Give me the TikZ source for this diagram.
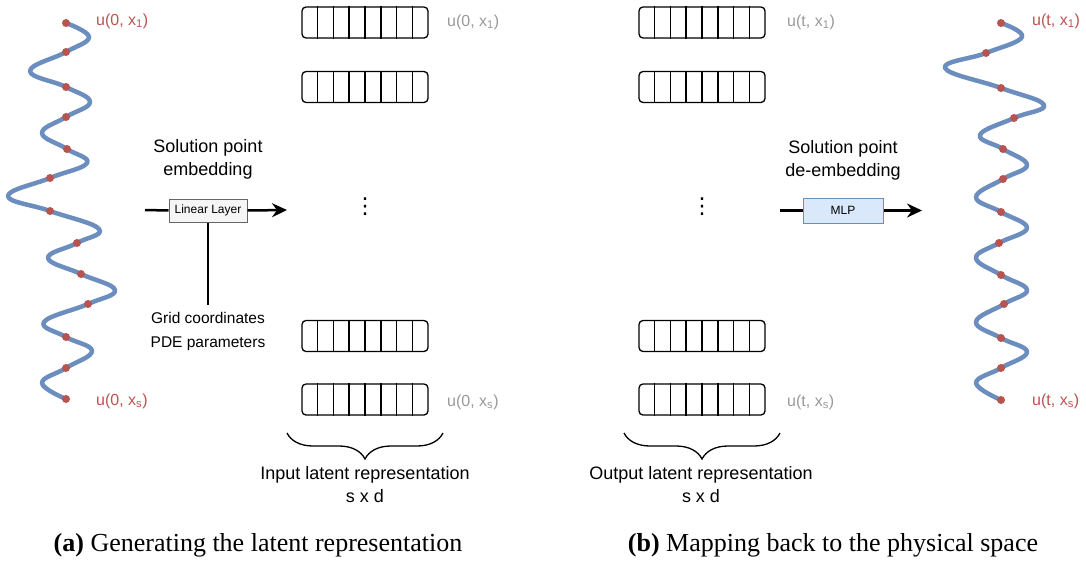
\documentclass[tikz,border=0pt]{standalone}
\usepackage{fontspec}
\setmainfont{Liberation Sans}
\newfontfamily\capfont{Liberation Serif}
\newfontfamily\symfont{DejaVu Sans}
\usetikzlibrary{calc,arrows.meta,decorations.pathreplacing}
\definecolor{wblue}{HTML}{6C8EBF}
\definecolor{wred}{HTML}{B85450}
\definecolor{lgray}{HTML}{999999}
\definecolor{mlpfill}{HTML}{DAE8FC}
\definecolor{linfill}{HTML}{F5F5F5}
\definecolor{linedge}{HTML}{666666}

\begin{document}
\begin{tikzpicture}[x=1pt,y=-1pt,
  wave/.style={wblue, line width=4.5pt, line cap=round, line join=round},
  sample/.style={circle, fill=wred, inner sep=0pt, minimum size=8pt},
  redlbl/.style={text=wred, font=\fontsize{16}{18}\selectfont, anchor=west, inner sep=0pt},
  graylbl/.style={text=lgray, font=\fontsize{16}{18}\selectfont, anchor=west, inner sep=0pt},
  vec/.style={draw, line width=1.3pt, rounded corners=4pt, minimum width=126pt, minimum height=31pt, inner sep=0pt},
  cell/.style={line width=1.2pt},
  flow/.style={line width=2.5pt, -{Stealth[length=15pt,width=14pt,inset=5pt]}},
  plain/.style={line width=2.5pt},
  bigtxt/.style={font=\fontsize{18}{23}\selectfont, align=center, inner sep=0pt},
  smalltxt/.style={font=\fontsize{15.5}{24}\selectfont, align=center, inner sep=0pt},
  vdotsstyle/.style={font=\symfont\fontsize{22}{24}\selectfont, inner sep=0pt},
  linbox/.style={draw=linedge, fill=linfill, line width=1pt, minimum width=78pt, minimum height=23pt, inner sep=0pt, font=\fontsize{12}{14}\selectfont},
  mlpbox/.style={draw=wblue, fill=mlpfill, line width=1pt, minimum width=80pt, minimum height=25pt, inner sep=0pt, font=\fontsize{12}{14}\selectfont},
  bracestyle/.style={line width=1.3pt, decorate, decoration={brace, mirror, amplitude=26pt, aspect=0.5}},
  caption/.style={font=\capfont\fontsize{26}{30}\selectfont, inner sep=0pt}]

\useasboundingbox (0,0) rectangle (1086,560);

% ---------- initial condition u(0,x) ----------
\draw[wave] plot[smooth, tension=0.7] coordinates {
  (66,23) (89,37) (66,52) (30,71) (66,87) (90,102) (66,117) (42,133)
  (67,149) (87,163) (50,178) (8,196) (50,211) (99,229) (77,243) (48,258)
  (81,274) (115,290) (88,304) (44,322) (66,337) (92,351) (66,368) (42,383) (66,399)};
\foreach \p [count=\i] in {(66,23),(66,52),(66,87),(66,117),(67,149),(50,178),(50,211),
  (77,243),(81,274),(88,304),(66,337),(66,368),(66,399)}
  \node[sample] (ls\i) at \p {};
\node[redlbl] (lu1) at (96,21) {u(0, x\textsubscript{1})};
\node[redlbl] (lus) at (96,401) {u(0, x\textsubscript{s})};

% ---------- solution u(t,x) ----------
\draw[wave] plot[smooth, tension=0.7] coordinates {
  (1001,23) (1022,37) (986,53) (945,68) (1001,88) (1044,105) (1014,118) (980,135)
  (1003,149) (1027,165) (1003,179) (976,197) (1001,212) (1027,228) (999,243) (976,258)
  (1001,275) (1027,290) (1004,304) (976,322) (1001,338) (1027,352) (1001,368) (976,383) (1001,400)};
\foreach \p [count=\i] in {(1001,23),(986,53),(1001,88),(1014,118),(1003,149),(1003,179),
  (1001,212),(999,243),(1001,275),(1004,304),(1001,338),(1001,368),(1001,400)}
  \node[sample] (rs\i) at \p {};
\node[redlbl] (ru1) at (1032,21) {u(t, x\textsubscript{1})};
\node[redlbl] (rus) at (1032,401) {u(t, x\textsubscript{s})};

% ---------- latent vectors ----------
\foreach \nm/\cx/\cy in {a1/365/22.5, a2/365/87, a3/365/336, a4/365/399.5,
                         b1/702/22.5, b2/702/87, b3/702/336, b4/702/399.5} {
  \node[vec] (\nm) at (\cx,\cy) {};
  \foreach \k in {1,...,7}
    \draw[cell] ($(\nm.north west)!\k/8!(\nm.north east)$) -- ($(\nm.south west)!\k/8!(\nm.south east)$);
}
\node[vdotsstyle] (adots) at (365,207) {⋮};
\node[vdotsstyle] (bdots) at (702,207) {⋮};

\node[graylbl] (ga1) at (447,22) {u(0, x\textsubscript{1})};
\node[graylbl] (ga4) at (447,402) {u(0, x\textsubscript{s})};
\node[graylbl] (gb1) at (787,22) {u(t, x\textsubscript{1})};
\node[graylbl] (gb4) at (787,402) {u(t, x\textsubscript{s})};

% ---------- braces ----------
\coordinate (abl) at (287,433);
\coordinate (abr) at (443,433);
\coordinate (bbl) at (624,433);
\coordinate (bbr) at (780,433);
\draw[bracestyle] (abl) -- (abr);
\draw[bracestyle] (bbl) -- (bbr);
\node[bigtxt] (atxt) at (365,485) {Input latent representation\\s x d};
\node[bigtxt] (btxt) at (701,485) {Output latent representation\\s x d};

% ---------- embedding ----------
\node[bigtxt] (etitle) at (208,159) {Solution point\\embedding};
\coordinate (ein) at (145,210);
\coordinate (eout) at (287,210);
\node[linbox] (lin) at (208,210.5) {Linear Layer};
\draw[plain] (ein) -- (lin.west);
\draw[flow] (lin.east) -- (eout);
\coordinate (gridtop) at (208,305);
\draw[line width=1.3pt] (lin.south) -- (gridtop);
\node[smalltxt] (grid) at (208,331) {Grid coordinates\\PDE parameters};

% ---------- de-embedding ----------
\node[bigtxt] (dtitle) at (843,160) {Solution point\\de-embedding};
\coordinate (din) at (780,210.5);
\coordinate (dout) at (922,210.5);
\node[mlpbox] (mlp) at (843,210.5) {MLP};
\draw[plain] (din) -- (mlp.west);
\draw[flow] (mlp.east) -- (dout);

% ---------- captions ----------
\node[caption] (capa) at (258,545) {\textbf{(a)} Generating the latent representation};
\node[caption] (capb) at (833,545) {\textbf{(b)} Mapping back to the physical space};

\end{tikzpicture}
\end{document}
